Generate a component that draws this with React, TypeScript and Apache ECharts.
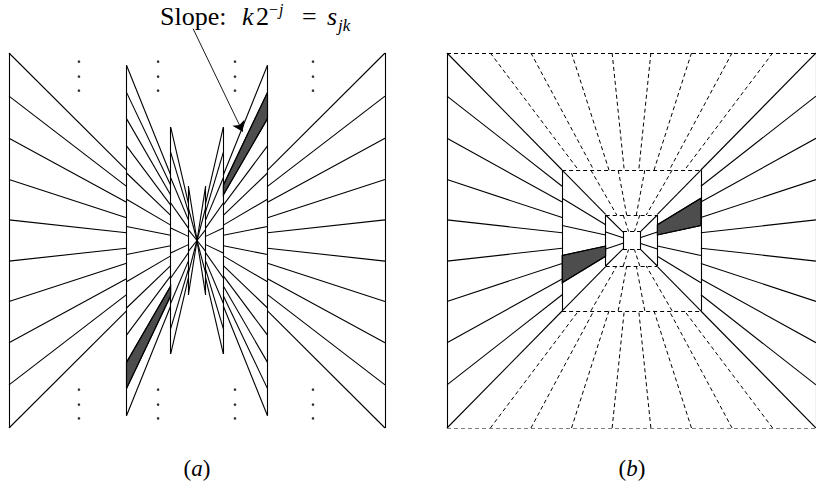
import React, { useEffect, useRef } from "react";
import * as echarts from "echarts";

// ---------------- Panel (a) ----------------
// |x| of the vertical lines (normalised: panel centre = 0, outer edge = 1)
const aLineX = [1, 0.375, 0.14, 0.046];
// half heights of those vertical lines
const aLineHalfH = [1, 0.935, 0.605, 0.29];
// points on each vertical line from which the rays toward the centre start
const aBandPts = [
  [1, 0.77, 0.545, 0.325, 0.11, -0.11, -0.325, -0.545, -0.77, -1],
  [0.935, 0.79, 0.65, 0.505, 0.36, 0.22, 0.075, -0.075, -0.22, -0.36, -0.505, -0.65, -0.79, -0.935],
  [0.605, 0.47, 0.335, 0.2, 0.067, -0.067, -0.2, -0.335, -0.47, -0.605],
  [0.29, 0.174, 0.058, -0.058, -0.174, -0.29],
];
// vertical ellipsis dots
const aDotX = [-0.628, -0.207, 0.202, 0.617];
const aDotY = [0.954, 0.874, 0.799, -0.795, -0.875, -0.949];
// shaded wedges: band index, side, between two ray start points
const aShade = [
  { band: 1, side: 1, from: 0.79, to: 0.65 },
  { band: 1, side: -1, from: -0.65, to: -0.79 },
];
// annotation arrow (from label to wedge)
const arrowCoords = [
  [-0.021, 1.13],
  [0.243, 0.58],
];

// ---------------- Panel (b) ----------------
const bRectHalfW = [1, 0.376, 0.14, 0.046];
const bRectHalfH = [1, 0.375, 0.136, 0.048];
// points on left/right sides of each ring (solid rays)
const bSidePts = [
  [1, 0.77, 0.545, 0.325, 0.11, -0.11, -0.325, -0.545, -0.77, -1],
  [0.375, 0.225, 0.08, -0.08, -0.225, -0.375],
  [0.136, 0.045, -0.045, -0.136],
];
// interior points on top/bottom sides of each ring (dashed rays)
const bTopPts = [
  [-0.765, -0.545, -0.325, -0.105, 0.105, 0.325, 0.545, 0.765],
  [-0.22, -0.072, 0.072, 0.22],
  [-0.045, 0.045],
];
const bShade = [
  { band: 1, side: 1, from: 0.225, to: 0.08 },
  { band: 1, side: -1, from: -0.08, to: -0.225 },
];

// ---------------- Texts ----------------
const SERIF = "Liberation Serif";
const titleTokens = [
  { t: "Slope:", x: 160, base: 25, fs: 26, it: false },
  { t: "k", x: 242, base: 25, fs: 26, it: true },
  { t: "2", x: 256, base: 25, fs: 26, it: false },
  { t: "\u2212", x: 269, base: 14.5, fs: 16, it: false },
  { t: "j", x: 279, base: 14.5, fs: 16, it: true },
  { t: "=", x: 302, base: 25, fs: 26, it: false },
  { t: "s", x: 327, base: 25, fs: 26, it: true },
  { t: "jk", x: 338, base: 31, fs: 17, it: true },
];
const panelLabels = [
  { letter: "a", x: 197, y: 468 },
  { letter: "b", x: 632, y: 468 },
];

type Seg = { coords: number[][] };
const seg = (x1: number, y1: number, x2: number, y2: number): Seg => ({
  coords: [
    [x1, y1],
    [x2, y2],
  ],
});

function buildA() {
  const segs: Seg[] = [];
  aLineX.forEach((x, b) => {
    const xi = b + 1 < aLineX.length ? aLineX[b + 1] : 0;
    [-1, 1].forEach((s) => {
      segs.push(seg(s * x, -aLineHalfH[b], s * x, aLineHalfH[b]));
      aBandPts[b].forEach((y) => segs.push(seg(s * x, y, s * xi, (y * xi) / x)));
    });
  });
  const polys = aShade.map(({ band, side, from, to }) => {
    const x = aLineX[band];
    const xi = aLineX[band + 1];
    return [
      [side * x, from],
      [side * x, to],
      [side * xi, (to * xi) / x],
      [side * xi, (from * xi) / x],
    ];
  });
  return { segs, polys };
}

function buildB() {
  const solid: Seg[] = [];
  const dashed: Seg[] = [];
  bRectHalfW.forEach((w, r) => {
    const h = bRectHalfH[r];
    solid.push(seg(-w, -h, -w, h), seg(w, -h, w, h));
    dashed.push(seg(-w, h, w, h), seg(-w, -h, w, -h));
  });
  bSidePts.forEach((pts, b) => {
    const w = bRectHalfW[b];
    const wi = bRectHalfW[b + 1];
    const h = bRectHalfH[b];
    const hi = bRectHalfH[b + 1];
    [-1, 1].forEach((s) => {
      pts.forEach((y) => solid.push(seg(s * w, y, s * wi, (y * wi) / w)));
      bTopPts[b].forEach((x) => dashed.push(seg(x, s * h, (x * hi) / h, s * hi)));
    });
  });
  const polys = bShade.map(({ band, side, from, to }) => {
    const w = bRectHalfW[band];
    const wi = bRectHalfW[band + 1];
    return [
      [side * w, from],
      [side * w, to],
      [side * wi, (to * wi) / w],
      [side * wi, (from * wi) / w],
    ];
  });
  return { solid, dashed, polys };
}

function buildOption() {
  const A = buildA();
  const B = buildB();
  const lineBase = { color: "#000", width: 1.1, opacity: 1, curveness: 0 };
  const polySeries = (polys: number[][][], idx: number) => ({
    type: "custom",
    coordinateSystem: "cartesian2d",
    xAxisIndex: idx,
    yAxisIndex: idx,
    silent: true,
    z: 1,
    data: polys.map((p) => p[0]),
    renderItem: (params: any, api: any) => ({
      type: "polygon",
      shape: { points: polys[params.dataIndex].map((p) => api.coord(p)) },
      style: { fill: "#4d4d4d", stroke: "#000", lineWidth: 1.1 },
    }),
  });
  const graphics: any[] = titleTokens.map((tk) => ({
    type: "text",
    x: tk.x,
    y: tk.base - 0.34 * tk.fs,
    silent: true,
    style: {
      text: tk.t,
      fill: "#000",
      fontFamily: SERIF,
      fontSize: tk.fs,
      fontStyle: tk.it ? "italic" : "normal",
      align: "left",
      verticalAlign: "middle",
    },
  }));
  panelLabels.forEach((l) =>
    graphics.push({
      type: "text",
      x: l.x,
      y: l.y,
      silent: true,
      style: {
        text: `{r|(}{i|${l.letter}}{r|)}`,
        align: "center",
        verticalAlign: "middle",
        rich: {
          r: { fontFamily: SERIF, fontSize: 23, fill: "#000" },
          i: { fontFamily: SERIF, fontSize: 23, fontStyle: "italic", fill: "#000" },
        },
      },
    })
  );
  return {
    animation: false,
    backgroundColor: "#fff",
    grid: [
      { left: 9, top: 53, width: 376, height: 375 },
      { left: 447, top: 53, width: 376, height: 375 },
    ],
    xAxis: [0, 1].map((i) => ({ type: "value", gridIndex: i, min: -1, max: 1, show: false })),
    yAxis: [0, 1].map((i) => ({ type: "value", gridIndex: i, min: -1, max: 1, show: false })),
    graphic: graphics,
    series: [
      polySeries(A.polys, 0),
      polySeries(B.polys, 1),
      {
        type: "lines",
        coordinateSystem: "cartesian2d",
        xAxisIndex: 0,
        yAxisIndex: 0,
        silent: true,
        z: 2,
        data: A.segs,
        lineStyle: lineBase,
      },
      {
        type: "lines",
        coordinateSystem: "cartesian2d",
        xAxisIndex: 1,
        yAxisIndex: 1,
        silent: true,
        z: 2,
        data: B.dashed,
        lineStyle: { ...lineBase, width: 1, type: [4, 3] },
      },
      {
        type: "lines",
        coordinateSystem: "cartesian2d",
        xAxisIndex: 1,
        yAxisIndex: 1,
        silent: true,
        z: 3,
        data: B.solid,
        lineStyle: lineBase,
      },
      {
        type: "scatter",
        xAxisIndex: 0,
        yAxisIndex: 0,
        silent: true,
        symbol: "circle",
        symbolSize: 2.6,
        itemStyle: { color: "#000" },
        data: aDotX.flatMap((x) => aDotY.map((y) => [x, y])),
      },
      {
        type: "lines",
        coordinateSystem: "cartesian2d",
        xAxisIndex: 0,
        yAxisIndex: 0,
        silent: true,
        clip: false,
        z: 4,
        symbol: ["none", "arrow"],
        symbolSize: [0, 10],
        data: [{ coords: arrowCoords }],
        lineStyle: { ...lineBase, width: 0.9 },
      },
    ],
  };
}

export default function App() {
  const ref = useRef<HTMLDivElement>(null);
  useEffect(() => {
    document.body.style.margin = "0";
    const chart = echarts.init(ref.current as HTMLDivElement, null, { renderer: "svg" });
    chart.setOption(buildOption() as any);
    return () => chart.dispose();
  }, []);
  return <div ref={ref} style={{ width: 816, height: 494 }} />;
}
